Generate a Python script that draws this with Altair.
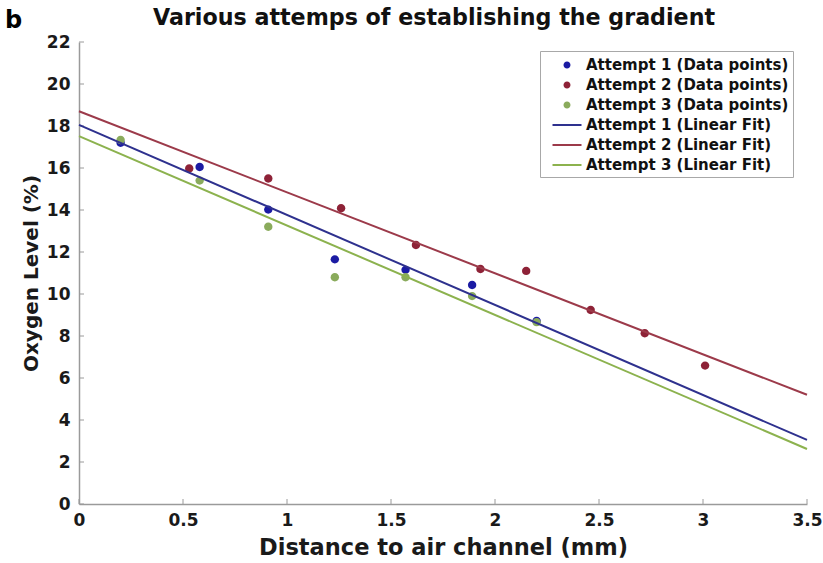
import altair as alt
import pandas as pd

# Measured oxygen levels (%) against distance to the air channel (mm)
a1_x = [0.20, 0.58, 0.91, 1.23, 1.57, 1.89, 2.20]
a1_y = [17.20, 16.05, 14.02, 11.65, 11.15, 10.43, 8.72]

a2_x = [0.53, 0.91, 1.26, 1.62, 1.93, 2.15, 2.46, 2.72, 3.01]
a2_y = [15.98, 15.50, 14.08, 12.33, 11.19, 11.10, 9.24, 8.13, 6.59]

a3_x = [0.20, 0.58, 0.91, 1.23, 1.57, 1.89, 2.20]
a3_y = [17.33, 15.40, 13.20, 10.80, 10.80, 9.90, 8.66]

# Linear fits, given by their values at both ends of the x range
fit_x = [0.0, 3.5]
fit1_y = [18.05, 3.05]
fit2_y = [18.70, 5.20]
fit3_y = [17.52, 2.62]

point_names = ["Attempt 1 (Data points)", "Attempt 2 (Data points)", "Attempt 3 (Data points)"]
fit_names = ["Attempt 1 (Linear Fit)", "Attempt 2 (Linear Fit)", "Attempt 3 (Linear Fit)"]
all_names = point_names + fit_names

point_colors = ["#1b1ba3", "#8e2237", "#8aab5c"]
line_colors = ["#2e318e", "#9c3a4a", "#8cb24e"]

x_ticks = [0, 0.5, 1, 1.5, 2, 2.5, 3, 3.5]
y_ticks = [0, 2, 4, 6, 8, 10, 12, 14, 16, 18, 20, 22]

chart_title = "Various attemps of establishing the gradient"
x_title = "Distance to air channel (mm)"
y_title = "Oxygen Level (%)"
panel_label = "b"

W, H = 728, 462
FONT = "DejaVu Sans"
AXIS_GREY = "#9a9a9a"
TEXT = "#1a1a1a"

# Symbols: a small dot and a short horizontal bar, both inside the [-1, 1] box
DOT = "M0.35,0A0.35,0.35 0 1,1 -0.35,0A0.35,0.35 0 1,1 0.35,0Z"
BAR = "M-1.45,-0.1H1.45V0.1H-1.45Z"

pts = pd.concat([
    pd.DataFrame({"x": xs, "y": ys, "series": name})
    for xs, ys, name in zip([a1_x, a2_x, a3_x], [a1_y, a2_y, a3_y], point_names)
])
fits = pd.concat([
    pd.DataFrame({"x": fit_x, "y": ys, "series": name})
    for ys, name in zip([fit1_y, fit2_y, fit3_y], fit_names)
])

x_scale = alt.Scale(domain=[0, 3.5], nice=False, zero=False)
y_scale = alt.Scale(domain=[0, 22], nice=False)
color_scale = alt.Scale(domain=all_names, range=point_colors + line_colors)
shape_scale = alt.Scale(domain=all_names, range=[DOT, DOT, DOT, BAR, BAR, BAR])

axis_style = dict(
    ticks=False, grid=False, labelFlush=False, domainColor=AXIS_GREY, domainWidth=1.5,
    labelFont=FONT, labelFontSize=17, labelFontWeight="bold", labelColor=TEXT,
    titleFont=FONT, titleFontWeight="bold", titleColor=TEXT,
)
x_axis = alt.Axis(values=x_ticks, format="~g", labelPadding=8, title=x_title,
                  titleFontSize=22.5, titlePadding=8, **axis_style)
y_axis = alt.Axis(values=y_ticks, format="~g", labelPadding=9, title=y_title,
                  titleFontSize=20, titlePadding=5, **axis_style)

legend = alt.Legend(
    title=None, orient="none", legendX=461, legendY=9,
    symbolSize=400, symbolStrokeWidth=0, symbolOffset=13, symbolOpacity=1,
    labelOffset=9, rowPadding=2, padding=4,
    strokeColor="#a8a8a8", fillColor="white",
    labelFont=FONT, labelFontSize=15, labelFontWeight="bold", labelColor="#111111",
    labelLimit=400,
)

points = alt.Chart(pts).mark_point(filled=True, opacity=1, size=576, strokeWidth=0).encode(
    x=alt.X("x:Q", scale=x_scale, axis=x_axis),
    y=alt.Y("y:Q", scale=y_scale, axis=y_axis),
    color=alt.Color("series:N", scale=color_scale, legend=legend),
    shape=alt.Shape("series:N", scale=shape_scale, legend=legend),
)

lines = alt.Chart(fits).mark_line(strokeWidth=2).encode(
    x=alt.X("x:Q", scale=x_scale),
    y=alt.Y("y:Q", scale=y_scale),
    color=alt.Color("series:N", scale=color_scale, legend=None),
    detail="series:N",
)

# Inward tick marks along both axes
xt = alt.Chart(pd.DataFrame({"t": x_ticks})).mark_rule(color=AXIS_GREY, strokeWidth=1).encode(
    x=alt.X("t:Q", scale=x_scale), y=alt.value(H), y2=alt.value(H - 5)
)
yt = alt.Chart(pd.DataFrame({"t": y_ticks})).mark_rule(color=AXIS_GREY, strokeWidth=1).encode(
    y=alt.Y("t:Q", scale=y_scale), x=alt.value(0), x2=alt.value(5)
)

# Heading and panel letter above the plot area
heading = alt.Chart(pd.DataFrame({"t": [chart_title]})).mark_text(
    font=FONT, fontSize=22.2, fontWeight="bold", align="center", baseline="middle", color="#111111"
).encode(text="t:N", x=alt.value(W / 2 - 9), y=alt.value(-24))

label = alt.Chart(pd.DataFrame({"t": [panel_label]})).mark_text(
    font=FONT, fontSize=24, fontWeight="bold", align="left", baseline="middle", color="#000000"
).encode(text="t:N", x=alt.value(-74), y=alt.value(-21))

chart = alt.layer(xt, yt, points, lines, heading, label).properties(
    width=W, height=H,
    autosize=alt.AutoSizeParams(type="none"),
    padding={"left": 79, "top": 42, "right": 16, "bottom": 59},
    background="white",
).configure_view(stroke=None)

chart.save("out.html", embed_options={"renderer": "svg", "actions": False})
